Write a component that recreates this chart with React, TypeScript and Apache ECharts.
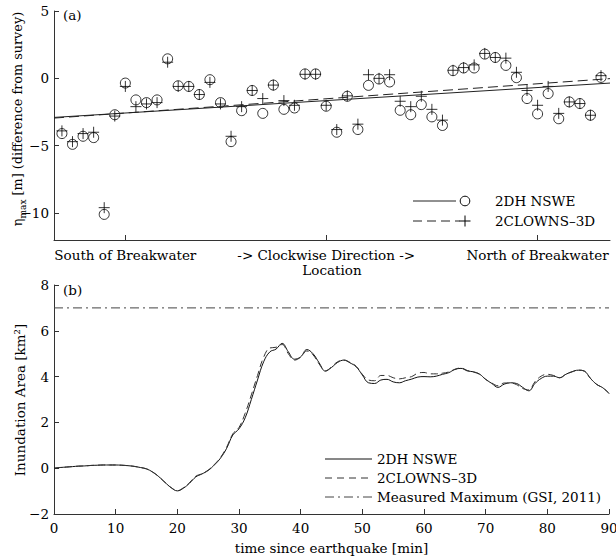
import React, { useEffect, useRef } from "react";
import * as echarts from "echarts";

// ---------- Panel (a) data ----------
const locationIndex = Array.from({ length: 52 }, (_, i) => i + 1);
const locationTicks = [7, 26, 46];
const locationTickLabels = ["South of Breakwater", "-> Clockwise Direction ->", "North of Breakwater"];
const etaTicks = [5, 0, -5, -10];
const etaNswe = [
  -4.1, -4.9, -4.3, -4.4, -10.1, -2.7, -0.35, -1.6, -1.8, -1.6,
  1.45, -0.55, -0.6, -1.2, -0.1, -1.8, -4.7, -2.4, -0.9, -2.6,
  -0.5, -2.3, -2.2, 0.33, 0.33, -2.07, -4.0, -1.33, -3.8, -0.52,
  -0.05, -0.27, -2.37, -2.7, -1.95, -2.86, -3.5, 0.57, 0.77, 0.77,
  1.8, 1.55, 0.96, 0.05, -1.5, -2.64, -1.13, -3.0, -1.75, -1.87,
  -2.74, 0.07,
];
const etaClowns = [
  -3.9, -4.7, -4.1, -4.0, -9.6, -2.8, -0.6, -2.1, -1.9, -1.8,
  1.2, -0.6, -0.6, -1.2, -0.3, -1.9, -4.3, -2.1, -0.9, -1.5,
  -0.5, -1.65, -2.0, 0.3, 0.3, -2.0, -3.8, -1.3, -3.4, 0.27,
  0.0, 0.27, -1.7, -2.1, -1.33, -2.3, -3.1, 0.6, 0.8, 1.0,
  1.85, 1.55, 1.5, 0.45, -0.9, -2.0, -0.6, -2.6, -1.75, -1.87,
  -2.74, 0.2,
];
const locMin = 0.25;
const locMax = 52.85;
const fitNswe = [-2.9, -0.35];
const fitClowns = [-2.95, -0.02];

// ---------- Panel (b) data ----------
const timeMin = Array.from({ length: 91 }, (_, i) => i);
const areaNswe = [
  0.0, 0.03, 0.05, 0.07, 0.09, 0.1, 0.12, 0.13, 0.14, 0.14,
  0.14, 0.13, 0.11, 0.08, 0.03, -0.03, -0.17, -0.37, -0.62, -0.85,
  -0.99, -0.87, -0.65, -0.38, -0.25, -0.1, 0.14, 0.44, 0.87, 1.45,
  1.72, 2.2, 3.0, 3.85, 4.65, 5.08, 5.2, 5.45, 5.08, 4.76,
  4.86, 5.18, 5.0, 4.6, 4.24, 4.4, 4.62, 4.72, 4.6, 4.43,
  4.07, 3.73, 3.7, 3.85, 3.88, 3.77, 3.73, 3.82, 3.89, 3.98,
  4.0, 3.99, 4.02, 4.1, 4.17, 4.31, 4.36, 4.25, 4.21, 4.11,
  3.88, 3.7, 3.53, 3.67, 3.73, 3.7, 3.53, 3.38, 3.7, 3.92,
  4.02, 4.02, 3.95, 4.1, 4.21, 4.28, 4.24, 3.92, 3.66, 3.51,
  3.27,
];
const areaClowns = [
  0.0, 0.03, 0.05, 0.07, 0.09, 0.1, 0.12, 0.13, 0.14, 0.14,
  0.14, 0.13, 0.11, 0.08, 0.03, -0.03, -0.17, -0.37, -0.62, -0.85,
  -0.98, -0.85, -0.62, -0.35, -0.24, -0.08, 0.16, 0.47, 0.92, 1.5,
  1.78, 2.4, 3.2, 4.05, 4.85, 5.25, 5.28, 5.4, 5.0, 4.72,
  4.85, 5.12, 4.95, 4.55, 4.25, 4.42, 4.65, 4.72, 4.62, 4.45,
  4.1, 3.85, 3.82, 4.05, 4.05, 3.95, 3.9, 3.95, 4.0, 4.15,
  4.18, 4.12, 4.12, 4.15, 4.2, 4.32, 4.38, 4.27, 4.2, 4.1,
  3.88, 3.72, 3.6, 3.72, 3.72, 3.65, 3.48, 3.42, 3.78, 4.02,
  4.1, 4.05, 3.95, 4.1, 4.21, 4.28, 4.24, 3.92, 3.66, 3.51,
  3.27,
];
const measuredMax = 7.0;

const FONT = "DejaVu Serif";
const FS = 13.5;
const AXIS_COLOR = "#333";
const minus = (v: number | string) => String(v).replace("-", "\u2212");

export default function App() {
  const ref = useRef<HTMLDivElement>(null);
  useEffect(() => {
    if (!ref.current) return;
    const chart = echarts.init(ref.current, undefined, { renderer: "svg" });
    const labelStyle = { color: "#000", fontFamily: FONT, fontSize: FS };
    const axisLine = { show: true, onZero: false, lineStyle: { color: AXIS_COLOR, width: 1 } };
    const tick = { show: true, inside: true, length: 5, lineStyle: { color: AXIS_COLOR } };
    const plusSymbol = "path://M5,0L5,10M0,5L10,5";
    const font = `${FS}px "${FONT}"`;

    const option: any = {
      animation: false,
      backgroundColor: "#fff",
      textStyle: { fontFamily: FONT },
      grid: [
        { left: 54, top: 11, width: 556, height: 229, containLabel: false, outerBoundsMode: "none" },
        { left: 54, top: 285, width: 555, height: 229, containLabel: false, outerBoundsMode: "none" },
      ],
      xAxis: [
        {
          gridIndex: 0,
          type: "value",
          min: locMin,
          max: locMax,
          axisLine,
          axisTick: { ...tick, customValues: locationTicks },
          axisLabel: {
            ...labelStyle,
            margin: 8,
            customValues: locationTicks,
            formatter: (v: number) => locationTickLabels[locationTicks.indexOf(Math.round(v))] ?? "",
          },
          splitLine: { show: false },
          name: "Location",
          nameLocation: "middle",
          nameGap: 22,
          nameTextStyle: labelStyle,
        },
        {
          gridIndex: 1,
          type: "value",
          min: 0,
          max: 90,
          interval: 10,
          axisLine,
          axisTick: tick,
          axisLabel: { ...labelStyle, margin: 7 },
          splitLine: { show: false },
          name: "time since earthquake [min]",
          nameLocation: "middle",
          nameGap: 27,
          nameTextStyle: labelStyle,
        },
      ],
      yAxis: [
        {
          gridIndex: 0,
          type: "value",
          min: -12,
          max: 5,
          axisLine,
          axisTick: { ...tick, customValues: etaTicks },
          axisLabel: { ...labelStyle, margin: 5, customValues: etaTicks, formatter: minus },
          splitLine: { show: false },
        },
        {
          gridIndex: 1,
          type: "value",
          min: -2,
          max: 8,
          interval: 2,
          axisLine,
          axisTick: tick,
          axisLabel: { ...labelStyle, margin: 5, formatter: minus },
          splitLine: { show: false },
        },
      ],
      series: [
        {
          type: "line",
          xAxisIndex: 0,
          yAxisIndex: 0,
          data: [[locMin, fitNswe[0]], [locMax, fitNswe[1]]],
          showSymbol: false,
          lineStyle: { color: "#222", width: 1 },
          silent: true,
        },
        {
          type: "line",
          xAxisIndex: 0,
          yAxisIndex: 0,
          data: [[locMin, fitClowns[0]], [locMax, fitClowns[1]]],
          showSymbol: false,
          lineStyle: { color: "#222", width: 1, type: [10, 5] },
          silent: true,
        },
        {
          type: "scatter",
          xAxisIndex: 0,
          yAxisIndex: 0,
          data: locationIndex.map((x, i) => [x, etaNswe[i]]),
          symbol: "circle",
          symbolSize: 10,
          itemStyle: { color: "transparent", borderColor: "#000", borderWidth: 1 },
        },
        {
          type: "scatter",
          xAxisIndex: 0,
          yAxisIndex: 0,
          data: locationIndex.map((x, i) => [x, etaClowns[i]]),
          symbol: plusSymbol,
          symbolSize: 11,
          itemStyle: { color: "transparent", borderColor: "#000", borderWidth: 1 },
        },
        {
          type: "line",
          xAxisIndex: 1,
          yAxisIndex: 1,
          data: timeMin.map((t, i) => [t, areaNswe[i]]),
          showSymbol: false,
          smooth: 0.4,
          lineStyle: { color: "#111", width: 1 },
        },
        {
          type: "line",
          xAxisIndex: 1,
          yAxisIndex: 1,
          data: timeMin.map((t, i) => [t, areaClowns[i]]),
          showSymbol: false,
          smooth: 0.4,
          lineStyle: { color: "#333", width: 1, type: [7, 4] },
        },
        {
          type: "line",
          xAxisIndex: 1,
          yAxisIndex: 1,
          data: [[0, measuredMax], [90, measuredMax]],
          showSymbol: false,
          lineStyle: { color: "#444", width: 1, type: [9, 4, 2, 4] },
        },
      ],
      graphic: [
        { type: "text", left: 63, top: 8, style: { text: "(a)", font, fill: "#000" } },
        { type: "text", left: 63, top: 283, style: { text: "(b)", font, fill: "#000" } },
        // y-axis titles
        {
          type: "text",
          x: 17,
          y: 119,
          rotation: Math.PI / 2,
          style: {
            text: "{a|\u03b7}{s|max}{a| [m] (difference from survey)}",
            align: "center",
            textAlign: "center",
            verticalAlign: "middle",
            textVerticalAlign: "middle",
            fill: "#000",
            font: `12.8px "${FONT}"`,
            rich: {
              a: { fontFamily: FONT, fontSize: 12.8, fill: "#000", lineHeight: 20, verticalAlign: "middle" },
              s: { fontFamily: FONT, fontSize: 9, fill: "#000", lineHeight: 20, verticalAlign: "bottom" },
            },
          },
        },
        {
          type: "text",
          x: 20,
          y: 400,
          rotation: Math.PI / 2,
          style: {
            text: "Inundation Area [km\u00b2]",
            align: "center",
            textAlign: "center",
            verticalAlign: "middle",
            textVerticalAlign: "middle",
            fill: "#000",
            font,
          },
        },
        // legend (a)
        { type: "line", shape: { x1: 413, y1: 201, x2: 456, y2: 201 }, style: { stroke: "#222", lineWidth: 1 } },
        { type: "circle", shape: { cx: 465, cy: 201, r: 4.8 }, style: { stroke: "#000", fill: "none", lineWidth: 1 } },
        { type: "text", x: 495, y: 201, style: { text: "2DH NSWE", font, fill: "#000", verticalAlign: "middle" } },
        { type: "line", shape: { x1: 413, y1: 221, x2: 460, y2: 221 }, style: { stroke: "#222", lineWidth: 1, lineDash: [9, 5] } },
        { type: "line", shape: { x1: 459.5, y1: 221, x2: 470.5, y2: 221 }, style: { stroke: "#000", lineWidth: 1 } },
        { type: "line", shape: { x1: 465, y1: 215.5, x2: 465, y2: 226.5 }, style: { stroke: "#000", lineWidth: 1 } },
        { type: "text", x: 495, y: 221, style: { text: "2CLOWNS\u20133D", font, fill: "#000", verticalAlign: "middle" } },
        // legend (b)
        { type: "line", shape: { x1: 325, y1: 459, x2: 372, y2: 459 }, style: { stroke: "#111", lineWidth: 1 } },
        { type: "text", x: 377, y: 459, style: { text: "2DH NSWE", font, fill: "#000", verticalAlign: "middle" } },
        { type: "line", shape: { x1: 325, y1: 478, x2: 372, y2: 478 }, style: { stroke: "#333", lineWidth: 1, lineDash: [7, 5] } },
        { type: "text", x: 377, y: 478, style: { text: "2CLOWNS\u20133D", font, fill: "#000", verticalAlign: "middle" } },
        { type: "line", shape: { x1: 325, y1: 497, x2: 372, y2: 497 }, style: { stroke: "#444", lineWidth: 1, lineDash: [9, 4, 2, 4] } },
        { type: "text", x: 377, y: 497, style: { text: "Measured Maximum (GSI, 2011)", font, fill: "#000", verticalAlign: "middle" } },
      ],
    };
    chart.setOption(option);
    return () => chart.dispose();
  }, []);
  return <div ref={ref} style={{ width: 616, height: 557, position: "absolute", left: 0, top: 0 }} />;
}
